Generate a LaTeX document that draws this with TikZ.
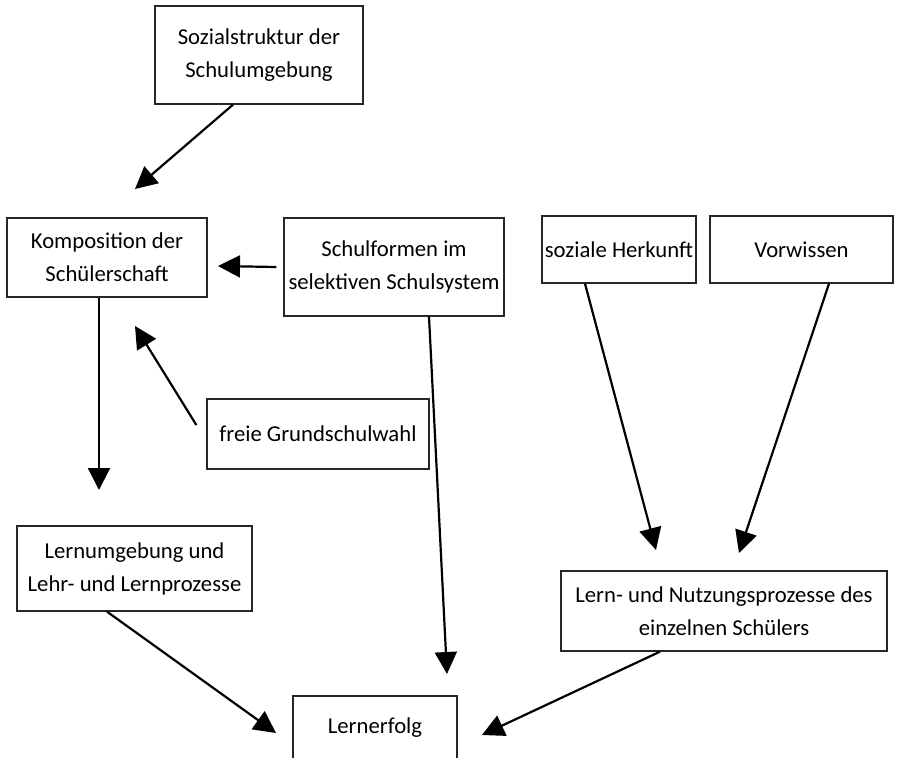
\documentclass[tikz,border=0pt]{standalone}
\usepackage{fontspec}
\setmainfont{Carlito}
\usetikzlibrary{arrows.meta}
\begin{document}
\begin{tikzpicture}[x=1pt,y=-1pt,
    box/.style={draw=black!85,line width=1.3pt,inner sep=0pt,align=center,
      font=\fontsize{22.7}{33}\selectfont},
    pfeil/.style={line width=2.2pt,-{Triangle[length=22pt,width=22pt]}}]
      \useasboundingbox (0,0) rectangle (898,758);
      \clip (0,0) rectangle (898,758);
      % Kaesten
      \node[box,minimum width=208pt,minimum height=98pt] (soz) at (259,55) {Sozialstruktur der\\Schulumgebung};
      \node[box,minimum width=200pt,minimum height=79pt] (komp) at (107,257.5) {Komposition der\\Sch\"ulerschaft};
      \node[box,minimum width=220pt,minimum height=98pt] (schulf) at (394,267) {Schulformen im\\selektiven Schulsystem};
      \node[box,minimum width=154pt,minimum height=67pt] (herk) at (619,249.5) {soziale Herkunft};
      \node[box,minimum width=183pt,minimum height=67pt] (vorw) at (801.5,249.5) {Vorwissen};
      \node[box,minimum width=222pt,minimum height=70pt] (frei) at (318,434) {freie Grundschulwahl};
      \node[box,minimum width=235pt,minimum height=85pt] (lernu) at (134.5,568.5) {Lernumgebung und\\Lehr- und Lernprozesse};
      \node[box,minimum width=326pt,minimum height=80pt] (nutz) at (724,611) {Lern- und Nutzungsprozesse des\\einzelnen Sch\"ulers};
      \node[box,minimum width=164pt,minimum height=64pt] (erfolg) at (375,728) {Lernerfolg};
      % Pfeilspitzen
      \coordinate (t1) at (135,189);
      \coordinate (t2) at (218,266);
      \coordinate (t3) at (99,490);
      \coordinate (t4) at (135,326);
      \coordinate (t5) at (447,674);
      \coordinate (t6) at (276,733);
      \coordinate (t7) at (656,550);
      \coordinate (t8) at (739,553);
      \coordinate (t9) at (482,735);
      % Pfeile
      \draw[pfeil] ([xshift=-26pt]soz.south) -- (t1);
      \draw[pfeil] ([xshift=-7pt]schulf.west) -- (t2);
      \draw[pfeil] ([xshift=-8pt]komp.south) -- (t3);
      \draw[pfeil] ([shift={(-10,-9)}]frei.west) -- (t4);
      \draw[pfeil] ([xshift=35pt]schulf.south) -- (t5);
      \draw[pfeil] ([xshift=-27.5pt]lernu.south) -- (t6);
      \draw[pfeil] ([xshift=-34pt]herk.south) -- (t7);
      \draw[pfeil] ([xshift=27.5pt]vorw.south) -- (t8);
      \draw[pfeil] ([xshift=-64pt]nutz.south) -- (t9);
\end{tikzpicture}
\end{document}
